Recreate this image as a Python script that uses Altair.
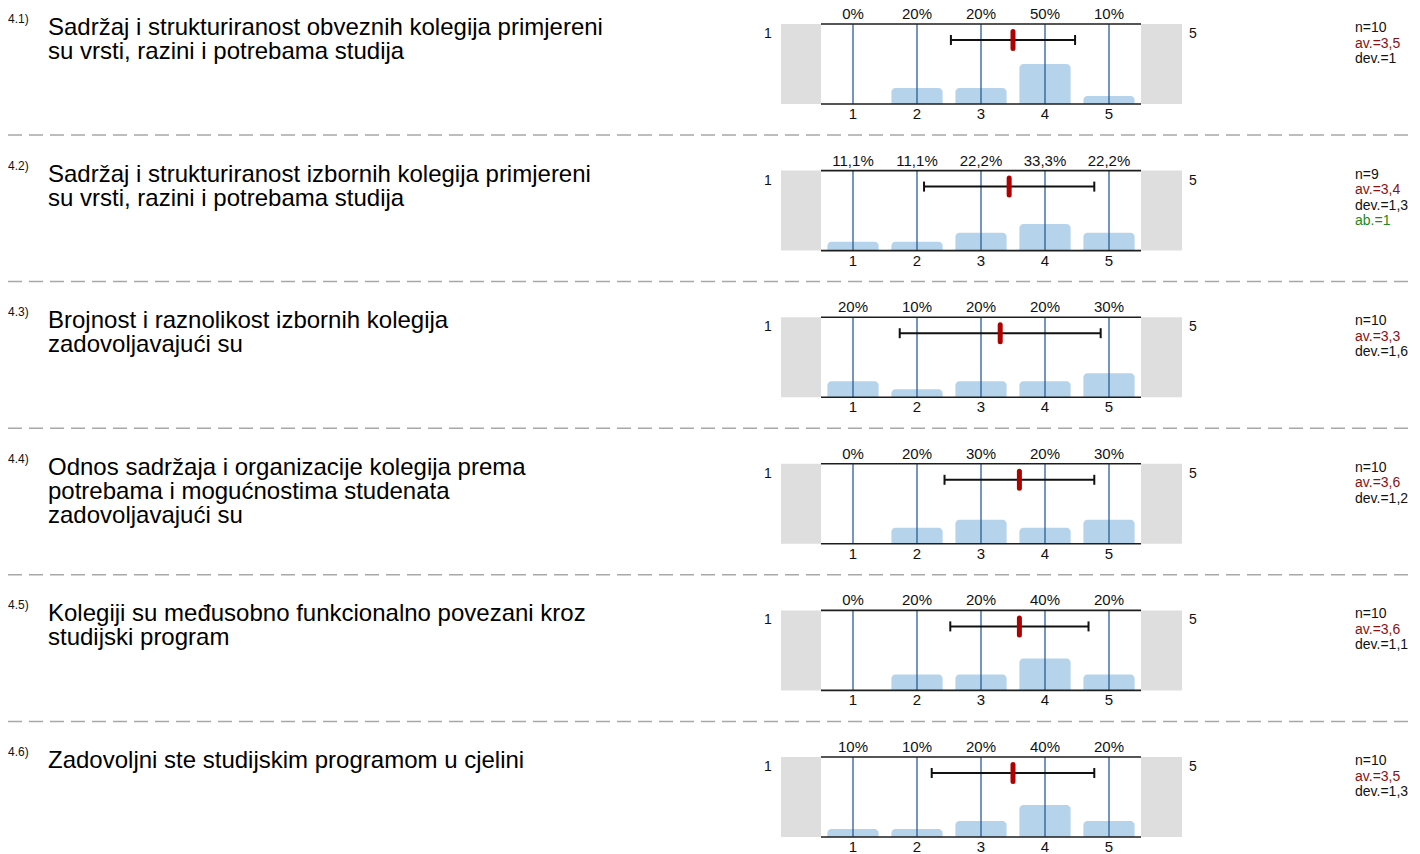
import altair as alt
import pandas as pd

# ---------------- data ----------------
q_numbers = ["4.1)", "4.2)", "4.3)", "4.4)", "4.5)", "4.6)"]
q_texts = [
    "Sadržaj i strukturiranost obveznih kolegija primjereni\nsu vrsti, razini i potrebama studija",
    "Sadržaj i strukturiranost izbornih kolegija primjereni\nsu vrsti, razini i potrebama studija",
    "Brojnost i raznolikost izbornih kolegija\nzadovoljavajući su",
    "Odnos sadržaja i organizacije kolegija prema\npotrebama i mogućnostima studenata\nzadovoljavajući su",
    "Kolegiji su međusobno funkcionalno povezani kroz\nstudijski program",
    "Zadovoljni ste studijskim programom u cjelini",
]
scale_values = [1, 2, 3, 4, 5]
percents = [
    [0, 20, 20, 50, 10],
    [11.1, 11.1, 22.2, 33.3, 22.2],
    [20, 10, 20, 20, 30],
    [0, 20, 30, 20, 30],
    [0, 20, 20, 40, 20],
    [10, 10, 20, 40, 20],
]
n_values = [10, 9, 10, 10, 10, 10]
means = [3.5, 3.44, 3.3, 3.6, 3.6, 3.5]
devs = [0.97, 1.33, 1.57, 1.17, 1.08, 1.27]
av_labels = ["3,5", "3,4", "3,3", "3,6", "3,6", "3,5"]
dev_labels = ["1", "1,3", "1,6", "1,2", "1,1", "1,3"]
ab_values = [None, 1, None, None, None, None]

# ---------------- layout / style ----------------
FONT = "Liberation Sans"
W = 1404            # chart width (page x 8 .. 1412)
H = 846             # chart height (page y 8 .. 854)
ROW_PX = 146.6      # vertical pitch of one question block
PX_PER_PCT = 0.8    # 100 % == 80 px
RU = ROW_PX / PX_PER_PCT
X_DOMAIN = [1 - 845 / 64, 1 + (W - 845) / 64]   # 64 px per answer step, answer 1 at page x 853
Y_DOMAIN = [120 - H / PX_PER_PCT, 120]          # row 0: 100 % at chart y 16, 0 % at chart y 96

BAR_COLOR = "#b5d4ec"
LINE_BLUE = "#2c5d96"
GREY = "#dedede"
RED = "#b00000"
AV_RED = "#8b1010"
GREEN = "#1a8a1a"
INK = "#111111"

xs = alt.Scale(domain=X_DOMAIN, nice=False, zero=False)
ys = alt.Scale(domain=Y_DOMAIN, nice=False, zero=False)


def X(f):
    return alt.X(f, scale=xs, axis=None)


def Y(f):
    return alt.Y(f, scale=ys, axis=None)


def y_pct(p):
    """expression: percentage level p inside the block of datum.row"""
    return f"{p} - datum.row * {RU}"


def y_px(c):
    """expression: pixel offset c from the top of the block of datum.row"""
    return f"{120 - c / PX_PER_PCT} - datum.row * {RU}"


def fmt_pct(p):
    return f"{p:g}".replace(".", ",") + "%"


rows_b = []
for r, pcts in enumerate(percents):
    for v, p in zip(scale_values, pcts):
        rows_b.append({"row": r, "v": v, "pct": p, "label": fmt_pct(p)})
bars_df = pd.DataFrame(rows_b)

summ_df = pd.DataFrame({
    "row": list(range(len(q_texts))),
    "num": q_numbers,
    "q": q_texts,
    "mean": means,
    "lo": [m - d for m, d in zip(means, devs)],
    "hi": [m + d for m, d in zip(means, devs)],
    "n": [f"n={n}" for n in n_values],
    "av": [f"av.={a}" for a in av_labels],
    "dev": [f"dev.={d}" for d in dev_labels],
    "ab": [f"ab.={a}" if a is not None else "" for a in ab_values],
})

B = alt.Chart(bars_df)
S = alt.Chart(summ_df)

layers = []
# grey side boxes
for x0, x1 in [(-0.125, 0.5), (5.5, 6.14)]:
    layers.append(
        S.transform_calculate(x0=f"{x0}", x1=f"{x1}", y0=y_pct(0), y1=y_pct(100))
        .mark_rect(color=GREY)
        .encode(x=X("x0:Q"), x2="x1:Q", y=Y("y0:Q"), y2="y1:Q")
    )
# bars
layers.append(
    B.transform_calculate(x0="datum.v - 0.4", x1="datum.v + 0.4", yb=y_pct("datum.pct"), y0=y_pct(0))
    .mark_bar(color=BAR_COLOR, cornerRadiusTopLeft=4, cornerRadiusTopRight=4)
    .encode(x=X("x0:Q"), x2="x1:Q", y=Y("yb:Q"), y2="y0:Q")
)
# vertical answer lines
layers.append(
    B.transform_calculate(y0=y_pct(0), y1=y_pct(100))
    .mark_rule(color=LINE_BLUE, strokeWidth=1.3)
    .encode(x=X("v:Q"), y=Y("y0:Q"), y2="y1:Q")
)
# top and bottom frame lines
for p in (0, 100):
    layers.append(
        S.transform_calculate(x0="0.5", x1="5.5", yy=y_pct(p))
        .mark_rule(color="#1e1e1e", strokeWidth=1.6)
        .encode(x=X("x0:Q"), x2="x1:Q", y=Y("yy:Q"))
    )
# deviation bar with caps
layers.append(
    S.transform_calculate(yy=y_px(32))
    .mark_rule(color=INK, strokeWidth=2)
    .encode(x=X("lo:Q"), x2="hi:Q", y=Y("yy:Q"))
)
for f in ("lo", "hi"):
    layers.append(
        S.transform_calculate(y0=y_px(27), y1=y_px(37))
        .mark_rule(color=INK, strokeWidth=2)
        .encode(x=X(f"{f}:Q"), y=Y("y0:Q"), y2="y1:Q")
    )
# mean marker
layers.append(
    S.transform_calculate(y0=y_px(23.5), y1=y_px(40.5))
    .mark_rule(color=RED, strokeWidth=5, strokeCap="round")
    .encode(x=X("mean:Q"), y=Y("y0:Q"), y2="y1:Q")
)
# percentage labels and answer labels
layers.append(
    B.transform_calculate(yy=y_px(6))
    .mark_text(font=FONT, fontSize=15, baseline="middle", color=INK)
    .encode(x=X("v:Q"), y=Y("yy:Q"), text="label:N")
)
layers.append(
    B.transform_calculate(yy=y_px(106))
    .mark_text(font=FONT, fontSize=15, baseline="middle", color=INK)
    .encode(x=X("v:Q"), y=Y("yy:Q"), text="v:N")
)
# scale end labels "1" and "5"
for t, xv in [("1", -0.328), ("5", 6.3125)]:
    layers.append(
        S.transform_calculate(xx=f"{xv}", yy=y_px(26))
        .mark_text(font=FONT, fontSize=14, baseline="middle", text=t, color=INK)
        .encode(x=X("xx:Q"), y=Y("yy:Q"))
    )
# question number and question text
layers.append(
    S.transform_calculate(yy=y_px(11))
    .mark_text(font=FONT, fontSize=12, baseline="middle", align="left", color=INK)
    .encode(x=alt.value(0), y=Y("yy:Q"), text="num:N")
)
layers.append(
    S.transform_calculate(yy=y_px(27))
    .mark_text(font=FONT, fontSize=24, lineHeight=24, lineBreak="\n", baseline="alphabetic",
               align="left", color="#000000")
    .encode(x=alt.value(40), y=Y("yy:Q"), text="q:N")
)
# statistics
for field, c, col in [("n", 20, INK), ("av", 35.5, AV_RED), ("dev", 51, INK), ("ab", 66.5, GREEN)]:
    layers.append(
        S.transform_calculate(yy=y_px(c))
        .mark_text(font=FONT, fontSize=14, baseline="middle", align="left", color=col)
        .encode(x=alt.value(1347), y=Y("yy:Q"), text=f"{field}:N")
    )
# dashed separators
layers.append(
    S.transform_filter(f"datum.row < {len(q_texts) - 1}")
    .transform_calculate(yy=y_px(127))
    .mark_rule(color="#a8a8a8", strokeWidth=1.5, strokeDash=[14, 7])
    .encode(x=alt.value(0), x2=alt.value(W), y=Y("yy:Q"))
)

chart = (
    alt.layer(*layers)
    .properties(
        width=W,
        height=H,
        autosize=alt.AutoSizeParams(type="none"),
        padding={"left": 0, "top": 0, "right": 0, "bottom": 0},
        background="#ffffff",
    )
    .configure_view(strokeWidth=0)
)

chart.save("out.html", embed_options={"renderer": "svg", "actions": False})
